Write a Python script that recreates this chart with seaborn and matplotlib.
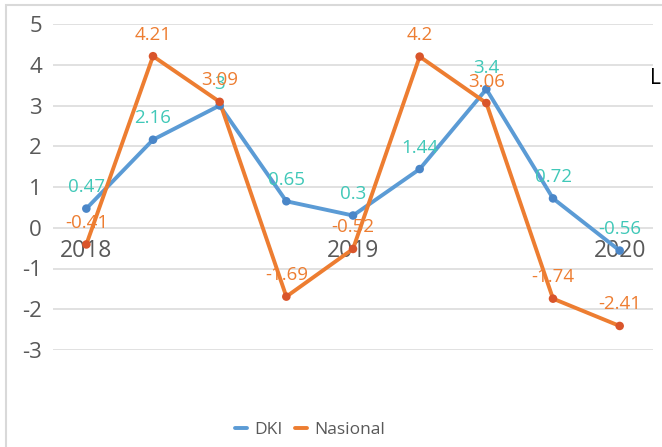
import pandas as pd
import seaborn as sns
import matplotlib.pyplot as plt
from matplotlib.patches import Rectangle

# data (quarterly)
periods = list(range(9))
year_labels = ['2018', '', '', '', '2019', '', '', '', '2020']
dki = [0.47, 2.16, 3.0, 0.65, 0.3, 1.44, 3.4, 0.72, -0.56]
nasional = [-0.41, 4.21, 3.09, -1.69, -0.52, 4.2, 3.06, -1.74, -2.41]
y_ticks = [-3, -2, -1, 0, 1, 2, 3, 4, 5]

df = pd.DataFrame({
    'periode': periods * 2,
    'nilai': dki + nasional,
    'seri': ['DKI'] * len(dki) + ['Nasional'] * len(nasional),
})

sns.set_theme(style='white')
plt.rcParams['font.family'] = ['Open Sans', 'DejaVu Sans']

line_colors = {'DKI': '#5B9BD5', 'Nasional': '#ED7D31'}
marker_colors = {'DKI': '#4A86C8', 'Nasional': '#D9552B'}
label_colors = {'DKI': '#40C8B8', 'Nasional': '#ED7D31'}

fig = plt.figure(figsize=(6.62, 4.47), dpi=100)
ax = fig.add_axes([53 / 662, 1 - 350 / 447, 600 / 662, 326 / 447])

# border of the chart area
fig.patches.append(Rectangle((6 / 662, -0.1), 1.2, 1 - 5 / 447 + 0.1,
                             transform=fig.transFigure, fill=False,
                             edgecolor='#D9D9D9', lw=1.5))

for yt in y_ticks:
    ax.axhline(yt, color='#D9D9D9', lw=1.1, zorder=0)

sns.lineplot(data=df, x='periode', y='nilai', hue='seri', palette=line_colors,
             lw=2.8, ax=ax, legend=True, zorder=2)
sns.scatterplot(data=df, x='periode', y='nilai', hue='seri', palette=marker_colors,
                s=38, edgecolor='none', ax=ax, legend=False, zorder=3)

# year labels sitting on the zero line
for i, lab in enumerate(year_labels):
    if lab:
        ax.annotate(lab, xy=(i, 0), xytext=(0, -17), textcoords='offset points',
                    ha='center', va='center', fontsize=16.5, color='#595959', zorder=1)

# data labels
for name, vals in [('DKI', dki), ('Nasional', nasional)]:
    for i, v in enumerate(vals):
        ax.annotate(f'{v:g}', xy=(i, v), xytext=(0, 15.5), textcoords='offset points',
                    ha='center', va='center', fontsize=13.5,
                    color=label_colors[name], zorder=4)

ax.set_xlim(-0.5, 8.5)
ax.set_ylim(-3, 5)
ax.set_yticks(y_ticks)
ax.set_yticklabels([str(t) for t in y_ticks], fontsize=16, color='#595959')
ax.set_xticks([])
ax.tick_params(axis='y', length=0, pad=8)
ax.set_xlabel('')
ax.set_ylabel('')
for s in ax.spines.values():
    s.set_visible(False)

handles, labels = ax.get_legend_handles_labels()
ax.legend(handles, labels, loc='center', bbox_to_anchor=(310 / 662, 1 - 430 / 447),
          bbox_transform=fig.transFigure, ncol=2, frameon=False, fontsize=12.5,
          handlelength=0.7, handletextpad=0.4, columnspacing=0.7,
          labelcolor='#595959')

fig.text(650 / 662, 1 - 78 / 447, 'L', fontsize=15, color='black', va='center', ha='left')

fig.savefig('out.png', dpi=100, facecolor='white')
